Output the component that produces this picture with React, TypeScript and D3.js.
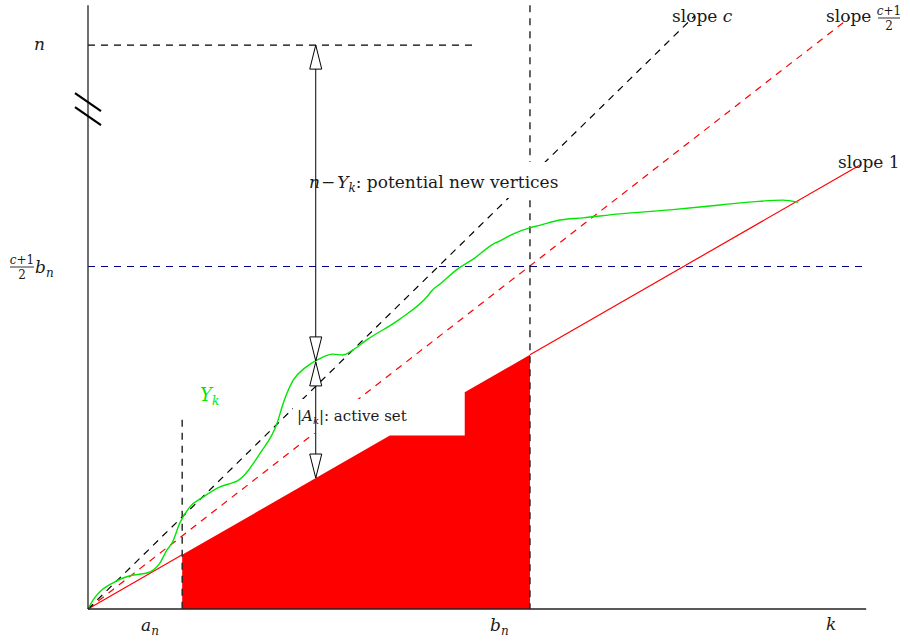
import React from "react";
import * as d3 from "d3";

// ---- data (in diagram units: k on x, value on y) ----
const C = 1.7; // slope c
const HALF = (C + 1) / 2; // slope (c+1)/2
const N_LEVEL = 127; // n
const A_N = 12.2; // a_n
const B_N = 57.25; // b_n
const STEP_K = [39.1, 48.8]; // active-set plateau from / to
const ARROW_K = 29.5;
const K_MAX = 100.8;
const Y_MAX = 136;
const SLOPE1_END = 100;
const SLOPE_C_END = 78.6;
const SLOPE_HALF_END = 98.7;
const N_LINE_END = 50.5;
const A_N_TOP = 42.6;
const BREAK_Y = 112.8;

const yk: [number, number][] = [
  [0, 0], [0.8, 2.4], [1.55, 3.9], [3.24, 5.9], [5.44, 7.5], [6.48, 7.8], [7.64, 8.1], [9.33, 10.4],
  [10.23, 13.3], [10.9, 14.9], [11.9, 19.4], [13.2, 23.0], [14.9, 25.2], [17.1, 27.5],
  [18.7, 28.4], [19.3, 28.8], [22.3, 35.1], [24.5, 41.9], [25.3, 46.4], [26.6, 51.6],
  [28.1, 54.3], [29.7, 56.1], [31.7, 57.4], [33.0, 57.2], [34.3, 58.3], [36.1, 60.6],
  [40.4, 65.3], [44.0, 70.5], [44.6, 71.8], [45.6, 73.2], [47.9, 76.6], [49.9, 78.8],
  [52.5, 82.2], [53.0, 82.6], [55.1, 84.5], [57.3, 85.9], [58.5, 86.4], [61.1, 87.6],
  [64.1, 88.1], [68.9, 89.0], [75.4, 89.9], [81.9, 91.0], [86.1, 91.7], [90.0, 92.1], [92.0, 91.6],
];

// ---- layout ----
const W = 910, H = 641;
const x = d3.scaleLinear().domain([0, SLOPE1_END]).range([88, 860]);
const y = d3.scaleLinear().domain([0, 100]).range([609, 165]);

const FONT = "'DejaVu Serif', 'Liberation Serif', serif";
const DASH = "7,6";
const INK = "#1a1a1a";

function ArrowHead({ px, py, dir }: { px: number; py: number; dir: 1 | -1 }) {
  const L = 24, hw = 6;
  const by = py - dir * L;
  return (
    <path
      d={`M${px},${py} L${px - hw},${by} L${px + hw},${by} Z`}
      fill="white"
      stroke="black"
      strokeWidth={1}
    />
  );
}

export default function App() {
  const line = d3.line<[number, number]>().x(d => x(d[0])).y(d => y(d[1])).curve(d3.curveMonotoneX);
  const ykAt = (k: number) => {
    for (let i = 1; i < yk.length; i++) {
      if (yk[i][0] >= k) {
        const [k0, v0] = yk[i - 1], [k1, v1] = yk[i];
        return v0 + ((v1 - v0) * (k - k0)) / (k1 - k0);
      }
    }
    return yk[yk.length - 1][1];
  };
  const ykMid = ykAt(ARROW_K);

  const redPoly: [number, number][] = [
    [A_N, 0], [A_N, A_N], [STEP_K[0], STEP_K[0]], [STEP_K[1], STEP_K[0]],
    [STEP_K[1], STEP_K[1]], [B_N, B_N], [B_N, 0],
  ];
  const polyD = "M" + redPoly.map(p => `${x(p[0])},${y(p[1])}`).join("L") + "Z";

  const ax = x(ARROW_K);
  const x0 = x(0), y0 = y(0);
  const bY = y(BREAK_Y);
  const blueY = Math.round(y(HALF * B_N)) + 0.5;

  return (
    <svg width={W} height={H} style={{ position: "absolute", left: 0, top: 0, background: "white" }} fontFamily={FONT}>
      {/* red active set */}
      <path d={polyD} fill="#ff0000" stroke="none" />

      {/* slope 1 (visible outside the filled region) */}
      <line x1={x(0)} y1={y(0)} x2={x(A_N)} y2={y(A_N)} stroke="#ff0000" strokeWidth={1.2} />
      <line x1={x(B_N)} y1={y(B_N)} x2={x(SLOPE1_END)} y2={y(SLOPE1_END)} stroke="#ff0000" strokeWidth={1.2} />
      {/* slope (c+1)/2 */}
      <line x1={x(0)} y1={y(0)} x2={x(SLOPE_HALF_END)} y2={y(SLOPE_HALF_END * HALF)} stroke="#ff0000" strokeWidth={1.2} strokeDasharray={DASH} />
      {/* slope c */}
      <line x1={x(0)} y1={y(0)} x2={x(SLOPE_C_END)} y2={y(SLOPE_C_END * C)} stroke="black" strokeWidth={1.2} strokeDasharray={DASH} />

      {/* blue (c+1)/2 b_n */}
      <line x1={x0} y1={blueY} x2={x(K_MAX)} y2={blueY} stroke="#00008b" strokeWidth={1.2} strokeDasharray={DASH} />
      {/* n level */}
      <line x1={x0} y1={y(N_LEVEL)} x2={x(N_LINE_END)} y2={y(N_LEVEL)} stroke="black" strokeWidth={1.2} strokeDasharray={DASH} />

      {/* vertical a_n, b_n */}
      <line x1={x(A_N)} y1={y(A_N_TOP)} x2={x(A_N)} y2={y0} stroke="#222" strokeWidth={1.4} strokeDasharray={DASH} />
      <line x1={x(B_N)} y1={y(Y_MAX)} x2={x(B_N)} y2={y0} stroke="#222" strokeWidth={1.4} strokeDasharray={DASH} />

      {/* green Y_k */}
      <path d={line(yk) || ""} fill="none" stroke="#00e600" strokeWidth={1.4} />

      {/* axes */}
      <line x1={x0} y1={y(Y_MAX)} x2={x0} y2={y0} stroke="#222" strokeWidth={1.3} />
      <line x1={x0} y1={y0} x2={x(K_MAX)} y2={y0} stroke="#222" strokeWidth={1.3} />
      {/* axis break */}
      <line x1={x0 - 13} y1={bY - 15} x2={x0 + 13} y2={bY + 3} stroke="black" strokeWidth={2.2} />
      <line x1={x0 - 13} y1={bY - 1} x2={x0 + 13} y2={bY + 17} stroke="black" strokeWidth={2.2} />

      {/* label boxes */}
      <rect x={303} y={162} width={275} height={36} fill="white" />
      <rect x={293} y={399} width={121} height={34} fill="white" />

      {/* arrows */}
      <line x1={ax} y1={y(N_LEVEL)} x2={ax} y2={y(ykMid)} stroke="black" strokeWidth={1} />
      <ArrowHead px={ax} py={y(N_LEVEL)} dir={-1} />
      <ArrowHead px={ax} py={y(ykMid)} dir={1} />
      <line x1={ax} y1={y(ykMid) + 1} x2={ax} y2={y(ARROW_K)} stroke="black" strokeWidth={1} />
      <ArrowHead px={ax} py={y(ykMid) + 1} dir={-1} />
      <ArrowHead px={ax} py={y(ARROW_K)} dir={1} />

      {/* texts */}
      <text x={309} y={188} fontSize={17} fill={INK}>
        <tspan fontStyle="italic">n</tspan>
        <tspan dx={1}>−</tspan>
        <tspan dx={2} fontStyle="italic">Y</tspan>
        <tspan fontStyle="italic" fontSize={12} dy={4}>k</tspan>
        <tspan dy={-4}>: potential new vertices</tspan>
      </text>
      <text x={297} y={421} fontSize={15} fill={INK}>
        <tspan>|</tspan>
        <tspan fontStyle="italic">A</tspan>
        <tspan fontStyle="italic" fontSize={10} dy={3}>k</tspan>
        <tspan dy={-3}>|: active set</tspan>
      </text>
      <text x={200} y={401} fontSize={18} fill="#00e600">
        <tspan fontStyle="italic">Y</tspan>
        <tspan fontStyle="italic" fontSize={12} dy={4}>k</tspan>
      </text>

      <text x={672} y={22} fontSize={17} fill={INK}>
        slope <tspan fontStyle="italic">c</tspan>
      </text>
      <text x={826} y={22} fontSize={17} fill={INK}>slope</text>
      <text x={889} y={15} fontSize={12} fill={INK} textAnchor="middle">
        <tspan fontStyle="italic">c</tspan>+1
      </text>
      <line x1={878} y1={18} x2={900} y2={18} stroke={INK} strokeWidth={0.9} />
      <text x={889} y={30} fontSize={12} fill={INK} textAnchor="middle">2</text>

      <text x={838} y={168} fontSize={17} fill={INK}>slope 1</text>

      <text x={34} y={50} fontSize={17} fill={INK} fontStyle="italic">n</text>

      <text x={22} y={264} fontSize={12} fill={INK} textAnchor="middle">
        <tspan fontStyle="italic">c</tspan>+1
      </text>
      <line x1={10} y1={267} x2={34} y2={267} stroke={INK} strokeWidth={0.9} />
      <text x={22} y={279} fontSize={12} fill={INK} textAnchor="middle">2</text>
      <text x={35} y={273} fontSize={17} fill={INK}>
        <tspan fontStyle="italic">b</tspan>
        <tspan fontStyle="italic" fontSize={12} dy={4}>n</tspan>
      </text>

      <text x={141} y={631} fontSize={17} fill={INK}>
        <tspan fontStyle="italic">a</tspan>
        <tspan fontStyle="italic" fontSize={12} dy={4}>n</tspan>
      </text>
      <text x={490} y={631} fontSize={17} fill={INK}>
        <tspan fontStyle="italic">b</tspan>
        <tspan fontStyle="italic" fontSize={12} dy={4}>n</tspan>
      </text>
      <text x={826} y={630} fontSize={17} fill={INK} fontStyle="italic">k</text>
    </svg>
  );
}
